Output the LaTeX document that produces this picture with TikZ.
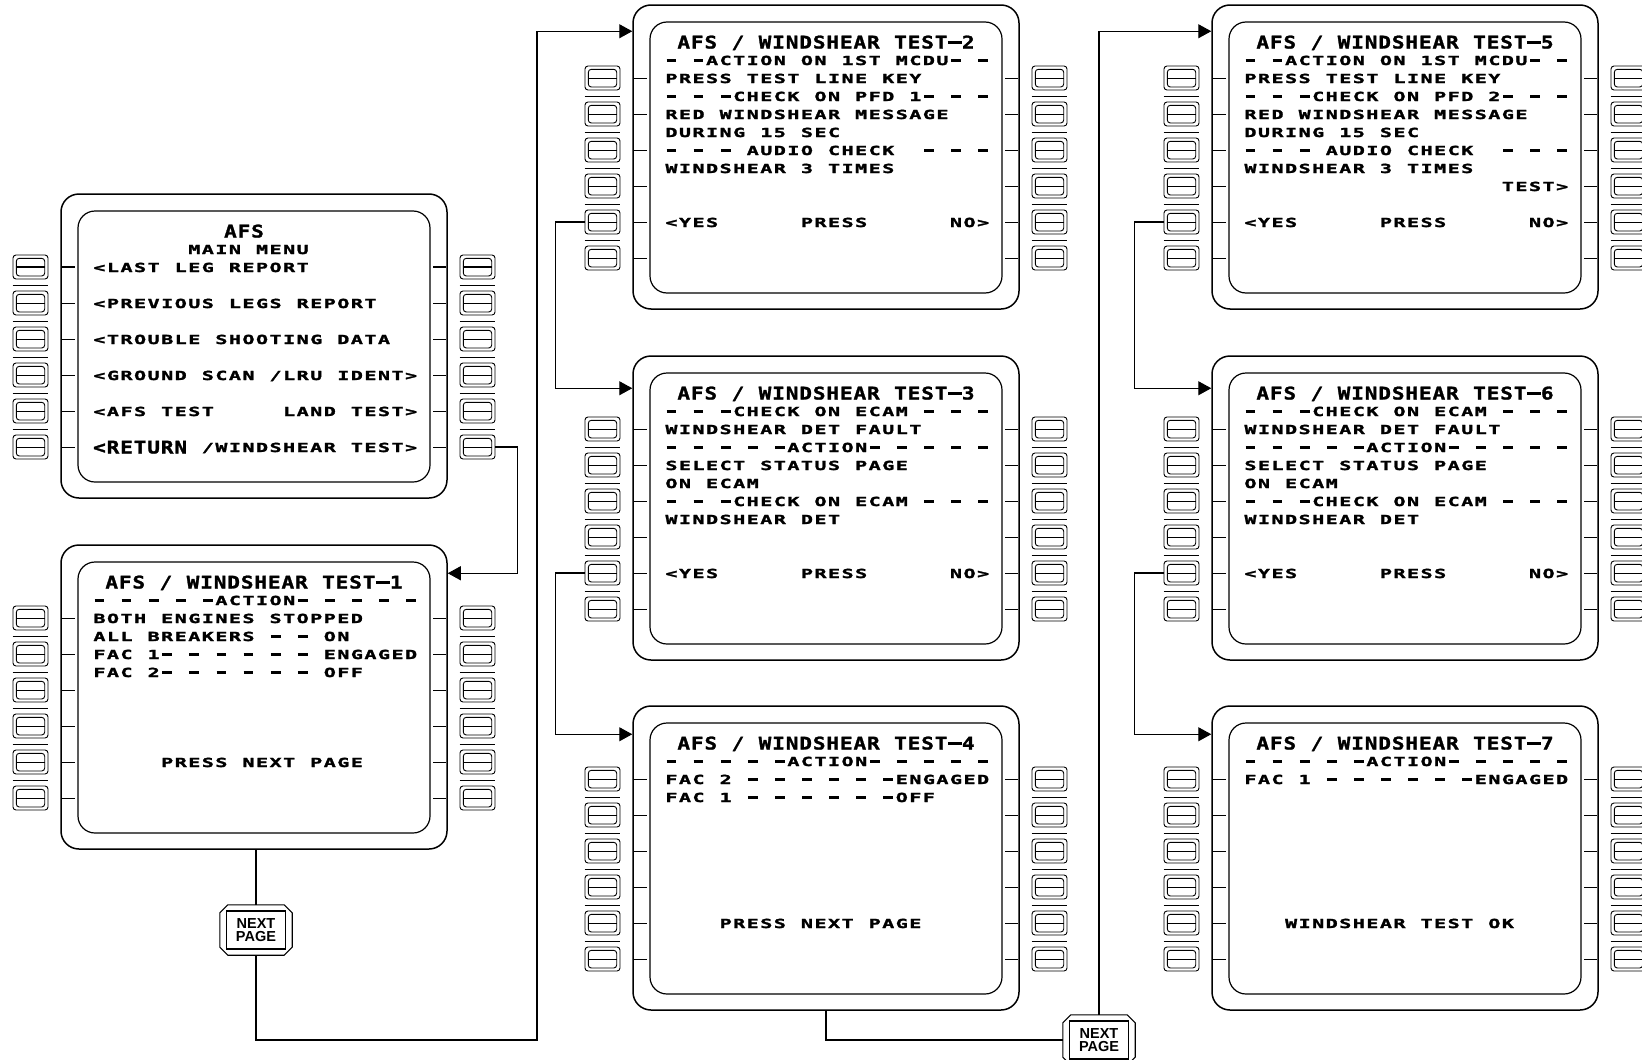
\documentclass[tikz,border=0pt]{standalone}
\usepackage{fontspec}
\usetikzlibrary{arrows.meta}
\newfontfamily\mcfam{DejaVu Sans Mono}[FakeStretch=1.6, FakeBold=2]
\newfontfamily\mtfam{DejaVu Sans Mono}[FakeStretch=1.2, FakeBold=1.5]
\newfontfamily\npfam{Liberation Sans}
\newcommand\mcfont{\mcfam\bfseries\fontsize{12.5}{16}\selectfont}
\newcommand\mtfont{\mtfam\bfseries\fontsize{17.5}{20}\selectfont}
\newcommand\npfont{\npfam\bfseries\fontsize{14.5}{13.5}\selectfont}
\newcounter{tn}
\ExplSyntaxOn
\NewDocumentCommand \mcdu { m }
  {
    \str_map_inline:nn { #1 }
      {
        \hbox_to_wd:nn { 13.55pt }
          {
            \hss
            \str_if_eq:nnTF { ##1 } { - }
              { \rule[0.25em]{0.78em}{0.2em} }
              { ##1 }
            \hss
          }
      }
  }
\ExplSyntaxOff
\tikzset{
  frame/.style={draw, line width=1.5pt, rounded corners=18pt, minimum width=386pt, minimum height=304pt, inner sep=0pt},
  lcd/.style={draw, line width=1.2pt, rounded corners=17pt, minimum width=352pt, minimum height=271pt, inner sep=0pt},
  btn/.style={draw, line width=0.9pt, rounded corners=3pt, minimum width=35pt, minimum height=24pt, inner sep=0pt,
    path picture={\draw[line width=0.9pt] ([xshift=3.3pt,yshift=3pt]path picture bounding box.south west) rectangle ([xshift=-3.3pt,yshift=-3.3pt]path picture bounding box.north east);
      \draw[line width=0.9pt] ([xshift=3.3pt]path picture bounding box.west) -- ([xshift=-3.3pt]path picture bounding box.east);}},
  tick/.style={line width=0.9pt, shorten <=2pt, shorten >=2pt},
  sepline/.style={line width=0.9pt},
  conn/.style={line width=1.1pt},
  arr/.style={conn, -{Triangle[length=13pt,width=14pt]}},
  mc/.style={anchor=base west, inner sep=0pt, font=\mcfont},
  mt/.style={anchor=base, inner sep=0pt, font=\mtfont},
  npout/.style={minimum width=72pt, minimum height=50pt, inner sep=0pt},
  npin/.style={draw, line width=1.3pt, minimum width=59pt, minimum height=38pt, inner sep=0pt, align=center, font=\npfont},
  npline/.style={line width=1.1pt},
}
% #1 name, #2 left, #3 top
\newcommand\mcduscreen[3]{%
  \node[frame] (#1) at ({#2+193},{#3+152}) {};
  \node[lcd] (#1s) at ({#2+193},{#3+152.5}) {};
  \foreach \k in {1,...,6} {
    \node[btn] (#1L\k) at ({#2-30.5},{#3+73+36*(\k-1)}) {};
    \node[btn] (#1R\k) at ({#2+416.5},{#3+73+36*(\k-1)}) {};
    \draw[tick] (#1.west |- #1L\k) -- (#1s.west |- #1L\k);
    \draw[tick] (#1.east |- #1R\k) -- (#1s.east |- #1R\k);
  }
  \foreach \k in {1,...,5} {
    \draw[sepline] ([yshift=-6pt]#1L\k.south west) -- ([yshift=-6pt]#1L\k.south east);
    \draw[sepline] ([yshift=-6pt]#1R\k.south west) -- ([yshift=-6pt]#1R\k.south east);
  }
}
% #1 left, #2 top, #3 row, #4 col, #5 text
\newcommand\mrow[5]{\stepcounter{tn}\node[mc] (t\arabic{tn}) at ({#1+31.5+13.55*#4},{#2+42+18*#3}) {\mcdu{#5}};}
% #1 left, #2 top, #3 text, #4 x offset
\newcommand\mtitle[4]{\stepcounter{tn}\node[mt] (t\arabic{tn}) at ({#1+193+#4},{#2+43.5}) {\mcdu{#3}};}
% #1 name, #2 cx, #3 cy
\newcommand\nextpage[3]{%
  \node[npout] (#1) at (#2,#3) {};
  \draw[npline] ([xshift=8pt]#1.north west) -- ([xshift=-8pt]#1.north east) -- ([yshift=-8pt]#1.north east) -- ([yshift=8pt]#1.south east) -- ([xshift=-8pt]#1.south east) -- ([xshift=8pt]#1.south west) -- ([yshift=8pt]#1.south west) -- ([yshift=-8pt]#1.north west) -- cycle;
  \node[npin] (#1t) at (#2,#3) {NEXT\\PAGE};
}
\begin{document}
\begin{tikzpicture}[x=1pt,y=-1pt]
\useasboundingbox (0,0) rectangle (1642,1060);
\fill[white] (0,0) rectangle (1642,1060);

% ---------- screens ----------
\mcduscreen{m}{61}{194}
\mcduscreen{s1}{61}{545}
\mcduscreen{s2}{633}{5}
\mcduscreen{s3}{633}{356}
\mcduscreen{s4}{633}{706}
\mcduscreen{s5}{1212}{5}
\mcduscreen{s6}{1212}{356}
\mcduscreen{s7}{1212}{706}

% bold first line key of main menu
\draw[line width=2pt] ([xshift=3.3pt]mL1.west) -- ([xshift=-3.3pt]mL1.east);
\draw[line width=2pt] ([xshift=3.3pt]mR1.west) -- ([xshift=-3.3pt]mR1.east);
\draw[tick, line width=2pt] (m.west |- mL1) -- (ms.west |- mL1);
\draw[tick, line width=2pt] (m.east |- mR1) -- (ms.east |- mR1);

% ---------- main menu ----------
\mtitle{61}{194}{AFS}{-10}
\mrow{61}{194}{1}{7}{MAIN MENU}
\mrow{61}{194}{2}{0}{<LAST LEG REPORT}
\mrow{61}{194}{4}{0}{<PREVIOUS LEGS REPORT}
\mrow{61}{194}{6}{0}{<TROUBLE SHOOTING DATA}
\mrow{61}{194}{8}{0}{<GROUND SCAN /LRU IDENT>}
\mrow{61}{194}{10}{0}{<AFS TEST}
\mrow{61}{194}{10}{14}{LAND TEST>}
\stepcounter{tn}\node[mt, anchor=base west] (t\arabic{tn}) at ({61+31.5},{194+37+18*12+6.5}) {\mcdu{<RETURN}};
\mrow{61}{194}{12}{8}{/WINDSHEAR TEST>}

% ---------- test 1 ----------
\mtitle{61}{545}{AFS / WINDSHEAR TEST-1}{0}
\mrow{61}{545}{1}{0}{- - - - -ACTION- - - - -}
\mrow{61}{545}{2}{0}{BOTH ENGINES STOPPED}
\mrow{61}{545}{3}{0}{ALL BREAKERS - - ON}
\mrow{61}{545}{4}{0}{FAC 1- - - - - - ENGAGED}
\mrow{61}{545}{5}{0}{FAC 2- - - - - - OFF}
\mrow{61}{545}{10}{5}{PRESS NEXT PAGE}

% ---------- test 2 ----------
\mtitle{633}{5}{AFS / WINDSHEAR TEST-2}{0}
\mrow{633}{5}{1}{0}{- -ACTION ON 1ST MCDU- -}
\mrow{633}{5}{2}{0}{PRESS TEST LINE KEY}
\mrow{633}{5}{3}{0}{- - -CHECK ON PFD 1- - -}
\mrow{633}{5}{4}{0}{RED WINDSHEAR MESSAGE}
\mrow{633}{5}{5}{0}{DURING 15 SEC}
\mrow{633}{5}{6}{0}{- - - AUDIO CHECK}
\mrow{633}{5}{6}{19}{- - -}
\mrow{633}{5}{7}{0}{WINDSHEAR 3 TIMES}
\mrow{633}{5}{10}{0}{<YES}
\mrow{633}{5}{10}{10}{PRESS}
\mrow{633}{5}{10}{21}{NO>}

% ---------- test 3 ----------
\mtitle{633}{356}{AFS / WINDSHEAR TEST-3}{0}
\mrow{633}{356}{1}{0}{- - -CHECK ON ECAM - - -}
\mrow{633}{356}{2}{0}{WINDSHEAR DET FAULT}
\mrow{633}{356}{3}{0}{- - - - -ACTION- - - - -}
\mrow{633}{356}{4}{0}{SELECT STATUS PAGE}
\mrow{633}{356}{5}{0}{ON ECAM}
\mrow{633}{356}{6}{0}{- - -CHECK ON ECAM - - -}
\mrow{633}{356}{7}{0}{WINDSHEAR DET}
\mrow{633}{356}{10}{0}{<YES}
\mrow{633}{356}{10}{10}{PRESS}
\mrow{633}{356}{10}{21}{NO>}

% ---------- test 4 ----------
\mtitle{633}{706}{AFS / WINDSHEAR TEST-4}{0}
\mrow{633}{706}{1}{0}{- - - - -ACTION- - - - -}
\mrow{633}{706}{2}{0}{FAC 2 - - - - - -ENGAGED}
\mrow{633}{706}{3}{0}{FAC 1 - - - - - -OFF}
\mrow{633}{706}{10}{4}{PRESS NEXT PAGE}

% ---------- test 5 ----------
\mtitle{1212}{5}{AFS / WINDSHEAR TEST-5}{0}
\mrow{1212}{5}{1}{0}{- -ACTION ON 1ST MCDU- -}
\mrow{1212}{5}{2}{0}{PRESS TEST LINE KEY}
\mrow{1212}{5}{3}{0}{- - -CHECK ON PFD 2- - -}
\mrow{1212}{5}{4}{0}{RED WINDSHEAR MESSAGE}
\mrow{1212}{5}{5}{0}{DURING 15 SEC}
\mrow{1212}{5}{6}{0}{- - - AUDIO CHECK}
\mrow{1212}{5}{6}{19}{- - -}
\mrow{1212}{5}{7}{0}{WINDSHEAR 3 TIMES}
\mrow{1212}{5}{8}{19}{TEST>}
\mrow{1212}{5}{10}{0}{<YES}
\mrow{1212}{5}{10}{10}{PRESS}
\mrow{1212}{5}{10}{21}{NO>}

% ---------- test 6 ----------
\mtitle{1212}{356}{AFS / WINDSHEAR TEST-6}{0}
\mrow{1212}{356}{1}{0}{- - -CHECK ON ECAM - - -}
\mrow{1212}{356}{2}{0}{WINDSHEAR DET FAULT}
\mrow{1212}{356}{3}{0}{- - - - -ACTION- - - - -}
\mrow{1212}{356}{4}{0}{SELECT STATUS PAGE}
\mrow{1212}{356}{5}{0}{ON ECAM}
\mrow{1212}{356}{6}{0}{- - -CHECK ON ECAM - - -}
\mrow{1212}{356}{7}{0}{WINDSHEAR DET}
\mrow{1212}{356}{10}{0}{<YES}
\mrow{1212}{356}{10}{10}{PRESS}
\mrow{1212}{356}{10}{21}{NO>}

% ---------- test 7 ----------
\mtitle{1212}{706}{AFS / WINDSHEAR TEST-7}{0}
\mrow{1212}{706}{1}{0}{- - - - -ACTION- - - - -}
\mrow{1212}{706}{2}{0}{FAC 1 - - - - - -ENGAGED}
\mrow{1212}{706}{10}{3}{WINDSHEAR TEST OK}

% ---------- NEXT PAGE keys ----------
\nextpage{np1}{256}{930}
\nextpage{np2}{1099}{1040}

% ---------- connectors ----------
\coordinate (c1) at (537,1040);
\draw[arr] (mR6.east) -- ++(22,0) |- ([yshift=-29pt]s1.north east);
\draw[conn] (np1.north |- s1.south) -- (np1.north);
\draw[arr] (np1.south) |- (c1) |- ([yshift=-27pt]s2.north west);
\draw[arr] (s2L5.west) -- ++(-29,0) |- ([yshift=-33pt]s3.north west);
\draw[arr] (s3L5.west) -- ++(-29,0) |- ([yshift=-29pt]s4.north west);
\draw[conn] (s4.south) |- (np2.west);
\draw[arr] (np2.north) |- ([yshift=-27pt]s5.north west);
\draw[arr] (s5L5.west) -- ++(-29,0) |- ([yshift=-33pt]s6.north west);
\draw[arr] (s6L5.west) -- ++(-29,0) |- ([yshift=-29pt]s7.north west);
\end{tikzpicture}
\end{document}
